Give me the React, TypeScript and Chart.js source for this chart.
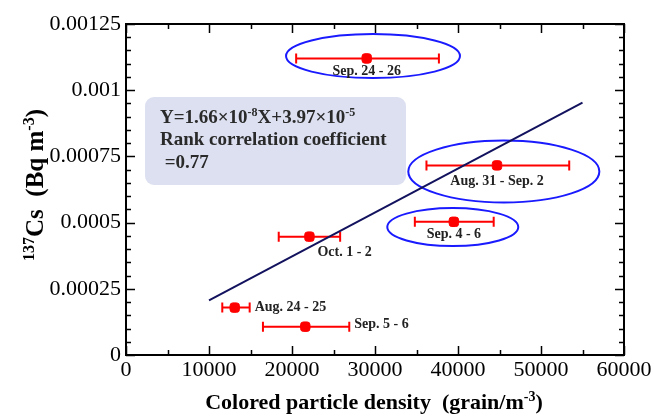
import React, { useEffect, useRef } from "react";
import { Chart, registerables } from "chart.js";

Chart.register(...registerables);

// ---------- data ----------
const periods = ["Sep. 24 - 26", "Aug. 31 - Sep. 2", "Sep. 4 - 6", "Oct. 1 - 2", "Aug. 24 - 25", "Sep. 5 - 6"];
const density = [29000, 44700, 39500, 22100, 13100, 21600];
const densityLow = [20500, 36200, 34800, 18400, 11600, 16500];
const densityHigh = [37700, 53400, 44300, 25800, 14900, 26900];
const cs137 = [0.00112, 0.000716, 0.000503, 0.000447, 0.000179, 0.000107];

const fitX = [10000, 55000];
const fitY = [0.000206, 0.000953];

// highlighted groups (ellipses), in data units
const ellipseCx = [29760, 45520, 39370];
const ellipseCy = [0.001129, 0.000693, 0.000483];
const ellipseRx = [10480, 11510, 7890];
const ellipseRy = [0.0000831, 0.000117, 0.0000718];

const xTicks = [0, 10000, 20000, 30000, 40000, 50000, 60000];
const yTicks = [0, 0.00025, 0.0005, 0.00075, 0.001, 0.00125];

// ---------- styles ----------
const SERIF = "'Liberation Serif', 'Times New Roman', serif";
const RED = "#ff0000";
const NAVY = "#12125e";
const BLUE = "#1a1aff";
// label placement: mode 'below' = centred under point, 'right' = after error bar, 'pt' = right of point
const labelMode = ["below", "below", "below", "pt", "right", "right"];
const labelDy = [13, 16, 13, 16, 0, -2];

type Piece = { t: string; sup?: boolean };

function drawRich(ctx: CanvasRenderingContext2D, pieces: Piece[], x: number, y: number, size: number, align: "left" | "center") {
  const supSize = Math.round(size * 0.62);
  const widths = pieces.map((p) => {
    ctx.font = `bold ${p.sup ? supSize : size}px ${SERIF}`;
    return ctx.measureText(p.t).width;
  });
  const total = widths.reduce((a, b) => a + b, 0);
  let cx = align === "center" ? x - total / 2 : x;
  ctx.textAlign = "left";
  ctx.textBaseline = "alphabetic";
  pieces.forEach((p, i) => {
    ctx.font = `bold ${p.sup ? supSize : size}px ${SERIF}`;
    ctx.fillText(p.t, cx, p.sup ? y - size * 0.38 : y);
    cx += widths[i];
  });
}

const decorPlugin = {
  id: "decor",
  beforeDatasetsDraw(chart: any) {
    const { ctx, scales } = chart;
    const xs = scales.x;
    const ys = scales.y;
    ctx.save();
    // text box
    const bx = 145, by = 97, bw = 261, bh = 88, r = 9;
    ctx.fillStyle = "#dce0f0";
    ctx.beginPath();
    ctx.moveTo(bx + r, by);
    ctx.arcTo(bx + bw, by, bx + bw, by + bh, r);
    ctx.arcTo(bx + bw, by + bh, bx, by + bh, r);
    ctx.arcTo(bx, by + bh, bx, by, r);
    ctx.arcTo(bx, by, bx + bw, by, r);
    ctx.closePath();
    ctx.fill();
    ctx.fillStyle = "#2a2a2a";
    drawRich(ctx, [{ t: "Y=1.66×10" }, { t: "-8", sup: true }, { t: "X+3.97×10" }, { t: "-5", sup: true }], 160, 123, 19, "left");
    drawRich(ctx, [{ t: "Rank correlation coefficient" }], 160, 145, 19, "left");
    drawRich(ctx, [{ t: " =0.77" }], 160, 168, 19, "left");

    // ellipses
    ctx.strokeStyle = BLUE;
    ctx.lineWidth = 2;
    for (let i = 0; i < ellipseCx.length; i++) {
      const cx = xs.getPixelForValue(ellipseCx[i]);
      const cy = ys.getPixelForValue(ellipseCy[i]);
      const rx = xs.getPixelForValue(ellipseCx[i] + ellipseRx[i]) - cx;
      const ry = cy - ys.getPixelForValue(ellipseCy[i] + ellipseRy[i]);
      ctx.beginPath();
      ctx.ellipse(cx, cy, rx, ry, 0, 0, Math.PI * 2);
      ctx.stroke();
    }

    // error bars
    ctx.strokeStyle = RED;
    ctx.lineWidth = 2;
    for (let i = 0; i < density.length; i++) {
      const y = ys.getPixelForValue(cs137[i]);
      const x1 = xs.getPixelForValue(densityLow[i]);
      const x2 = xs.getPixelForValue(densityHigh[i]);
      ctx.beginPath();
      ctx.moveTo(x1, y);
      ctx.lineTo(x2, y);
      ctx.moveTo(x1, y - 5);
      ctx.lineTo(x1, y + 5);
      ctx.moveTo(x2, y - 5);
      ctx.lineTo(x2, y + 5);
      ctx.stroke();
    }

    // point labels
    ctx.fillStyle = "#222";
    ctx.font = `bold 14px ${SERIF}`;
    ctx.textBaseline = "middle";
    for (let i = 0; i < periods.length; i++) {
      const px = xs.getPixelForValue(density[i]);
      const py = ys.getPixelForValue(cs137[i]) + labelDy[i];
      if (labelMode[i] === "below") {
        ctx.textAlign = "center";
        ctx.fillText(periods[i], px, py);
      } else if (labelMode[i] === "pt") {
        ctx.textAlign = "left";
        ctx.fillText(periods[i], px + 8, py);
      } else {
        ctx.textAlign = "left";
        ctx.fillText(periods[i], xs.getPixelForValue(densityHigh[i]) + 5, py);
      }
    }
    ctx.restore();
  },
  afterDraw(chart: any) {
    const { ctx, chartArea: a, scales } = chart;
    const xs = scales.x;
    const ys = scales.y;
    ctx.save();
    ctx.strokeStyle = "#000";
    ctx.lineWidth = 2;
    ctx.strokeRect(a.left, a.top, a.right - a.left, a.bottom - a.top);
    ctx.lineWidth = 1.5;
    ctx.beginPath();
    // x ticks (major every 10000, minor every 5000) bottom & top, inward
    for (let v = 0; v <= 60000; v += 5000) {
      const x = Math.round(xs.getPixelForValue(v)) + 0.5;
      const len = v % 10000 === 0 ? 9 : 5;
      ctx.moveTo(x, a.bottom);
      ctx.lineTo(x, a.bottom - len);
      ctx.moveTo(x, a.top);
      ctx.lineTo(x, a.top + len);
    }
    // y ticks (major every 0.00025, minor every 0.00005) left & right
    for (let k = 0; k <= 25; k++) {
      const v = k * 0.00005;
      const y = Math.round(ys.getPixelForValue(v)) + 0.5;
      const len = k % 5 === 0 ? 9 : 5;
      ctx.moveTo(a.left, y);
      ctx.lineTo(a.left + len, y);
      ctx.moveTo(a.right, y);
      ctx.lineTo(a.right - len, y);
    }
    ctx.stroke();

    // axis titles
    ctx.fillStyle = "#000";
    drawRich(ctx, [{ t: "Colored particle density  (grain/m" }, { t: "-3", sup: true }, { t: ")" }], 374, 409, 22, "center");
    ctx.translate(43, 185);
    ctx.rotate(-Math.PI / 2);
    drawRich(ctx, [{ t: "137", sup: true }, { t: "Cs  (Bq m" }, { t: "-3", sup: true }, { t: ")" }], 0, 0, 25, "center");
    ctx.restore();
  },
};

export default function App() {
  const ref = useRef<HTMLCanvasElement | null>(null);
  useEffect(() => {
    document.body.style.margin = "0";
    const canvas = ref.current!;
    const chart = new Chart(canvas, {
      type: "scatter",
      data: {
        datasets: [
          {
            data: density.map((x, i) => ({ x, y: cs137[i] })),
            backgroundColor: RED,
            borderColor: RED,
            pointRadius: 5.5,
            pointStyle: "rectRounded",
            showLine: false,
          },
          {
            data: fitX.map((x, i) => ({ x, y: fitY[i] })),
            showLine: true,
            borderColor: NAVY,
            borderWidth: 2,
            pointRadius: 0,
          },
        ],
      },
      options: {
        responsive: false,
        animation: false,
        layout: { padding: { top: 24, right: 30, left: 0, bottom: 0 } },
        plugins: { legend: { display: false }, tooltip: { enabled: false } },
        scales: {
          x: {
            type: "linear",
            min: 0,
            max: 60000,
            afterBuildTicks: (s: any) => {
              s.ticks = xTicks.map((v) => ({ value: v }));
            },
            afterFit: (s: any) => {
              s.height = 61;
            },
            ticks: {
              callback: (v: any) => String(v),
              font: { family: SERIF, size: 22 },
              color: "#000",
              padding: 2,
              maxRotation: 0,
              autoSkip: false,
            },
            grid: { display: false, drawTicks: false },
            border: { display: false },
          },
          y: {
            type: "linear",
            min: 0,
            max: 0.00125,
            afterBuildTicks: (s: any) => {
              s.ticks = yTicks.map((v) => ({ value: v }));
            },
            afterFit: (s: any) => {
              s.width = 126;
            },
            ticks: {
              callback: (v: any) => String(parseFloat(Number(v).toFixed(5))),
              font: { family: SERIF, size: 22 },
              color: "#000",
              padding: 5,
              autoSkip: false,
            },
            grid: { display: false, drawTicks: false },
            border: { display: false },
          },
        },
      },
      plugins: [decorPlugin],
    } as any);
    return () => chart.destroy();
  }, []);
  return <canvas ref={ref} width={654} height={416} style={{ display: "block" }} />;
}
